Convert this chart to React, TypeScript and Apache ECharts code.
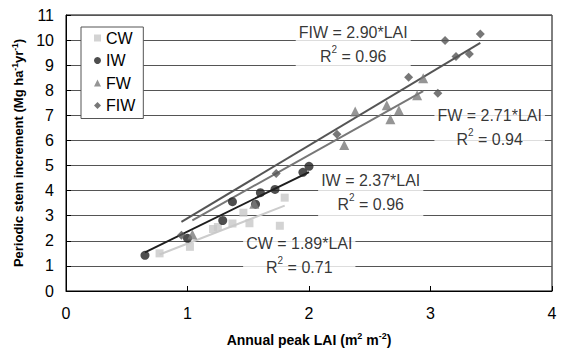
import React, { useEffect, useRef } from "react";
import * as echarts from "echarts";

// ---- data ----
const cwPoints: number[][] = [
  [0.77, 1.5], [1.02, 1.76], [1.21, 2.47], [1.25, 2.55], [1.37, 2.69],
  [1.46, 3.12], [1.51, 2.7], [1.76, 2.6], [1.8, 3.72],
];
const iwPoints: number[][] = [
  [0.65, 1.42], [1.0, 2.1], [1.29, 2.81], [1.37, 3.56], [1.56, 3.46],
  [1.6, 3.92], [1.72, 4.05], [1.95, 4.73], [2.0, 4.97],
];
const fwPoints: number[][] = [
  [1.04, 2.25], [1.55, 3.48], [2.29, 5.82], [2.38, 7.15], [2.64, 7.4],
  [2.67, 6.85], [2.74, 7.2], [2.89, 7.8], [2.94, 8.48],
];
const fiwPoints: number[][] = [
  [0.95, 2.22], [1.73, 4.68], [2.23, 6.25], [2.82, 8.52], [3.06, 7.88],
  [3.12, 9.98], [3.21, 9.35], [3.32, 9.45], [3.41, 10.24],
];

const seriesNames = ["CW", "IW", "FW", "FIW"];
const slopes = [1.89, 2.37, 2.71, 2.9];
const slopeLabels = ["1.89", "2.37", "2.71", "2.90"];
const r2Labels = ["0.71", "0.96", "0.94", "0.96"];
// annotation anchors (data coordinates)
const annX = [1.92, 2.508, 3.487, 2.364];
const annY = [1.425, 3.92, 6.51, 9.83];

const xTicks = [0, 1, 2, 3, 4];
const yMax = 11;

const FONT = "'Liberation Sans', Arial, sans-serif";
const colors = ["#c8c8c8", "#222222", "#7a7a7a", "#555555"];
const lineColors = ["#cccccc", "#1e1e1e", "#777777", "#555555"];
const symbols = ["rect", "circle", "triangle", "diamond"];
const symbolSizes = [8, 9, 10, 9];

export default function App() {
  const ref = useRef<HTMLDivElement>(null);
  useEffect(() => {
    if (!ref.current) return;
    const chart = echarts.init(ref.current, undefined, { renderer: "svg" });
    const allPts = [cwPoints, iwPoints, fwPoints, fiwPoints];

    const trendSeries = allPts.map((pts, i) => {
      const xs = pts.map((p) => p[0]);
      const x0 = Math.min(...xs);
      const x1 = Math.max(...xs);
      return {
        type: "line",
        name: seriesNames[i] + " trend",
        data: [
          [x0, slopes[i] * x0],
          [x1, slopes[i] * x1],
        ],
        symbol: "none",
        silent: true,
        z: 3,
        lineStyle: { color: lineColors[i], width: 2 },
      };
    });

    const scatterSeries = allPts.map((pts, i) => ({
      type: "scatter",
      name: seriesNames[i],
      data: pts,
      symbol: symbols[i],
      symbolSize: symbolSizes[i],
      itemStyle: { color: colors[i] },
      z: 4,
    }));

    const annSeries = {
      type: "scatter",
      name: "annotations",
      symbolSize: 0,
      silent: true,
      z: 2,
      data: seriesNames.map((n, i) => ({
        value: [annX[i], annY[i]],
        label: {
          show: true,
          position: "inside",
          formatter: `{t|${n} = ${slopeLabels[i]}*LAI}\n{t|R}{s|2}{t| = ${r2Labels[i]}}`,
        },
      })),
      label: {
        show: true,
        position: "inside",
        backgroundColor: "#ffffff",
        padding: [0, 3],
        align: "center",
        verticalAlign: "middle",
        rich: {
          t: { fontFamily: FONT, fontSize: 16, color: "#000", lineHeight: 24 },
          s: { fontFamily: FONT, fontSize: 10, color: "#000", lineHeight: 16, verticalAlign: "top" },
        },
      },
    };

    chart.setOption({
      animation: false,
      backgroundColor: "#ffffff",
      textStyle: { fontFamily: FONT },
      grid: {
        left: 66,
        right: 16,
        top: 15,
        bottom: 59,
        show: true,
        borderColor: "#000",
        borderWidth: 1,
        backgroundColor: "transparent",
      },
      legend: {
        data: seriesNames.map((n, i) => ({ name: n, icon: symbols[i] })),
        orient: "vertical",
        left: 81,
        top: 27,
        itemWidth: 7,
        itemHeight: 7,
        itemGap: 6.5,
        padding: [3, 8, 5, 13],
        backgroundColor: "#ffffff",
        borderColor: "#555",
        borderWidth: 1,
        selectedMode: false,
        textStyle: { fontFamily: FONT, fontSize: 16, color: "#000" },
      },
      xAxis: {
        type: "value",
        min: xTicks[0],
        max: xTicks[xTicks.length - 1],
        interval: 1,
        name: "{b|Annual peak LAI (m}{s|2}{b| m}{s|-2}{b|)}",
        nameLocation: "middle",
        nameGap: 40,
        nameTextStyle: {
          rich: {
            b: { fontFamily: FONT, fontSize: 14, fontWeight: "bold", color: "#000", lineHeight: 18 },
            s: { fontFamily: FONT, fontSize: 9, fontWeight: "bold", color: "#000", lineHeight: 12, verticalAlign: "top" },
          },
        },
        axisLine: { lineStyle: { color: "#000", width: 1 } },
        axisTick: { inside: true, length: 5, lineStyle: { color: "#000" } },
        axisLabel: { fontFamily: FONT, fontSize: 16, color: "#000", margin: 14 },
        splitLine: { show: false },
      },
      yAxis: {
        type: "value",
        min: 0,
        max: yMax,
        interval: 1,
        name: "{b|Periodic stem increment (Mg ha}{s|-1}{b|yr}{s|-1}{b|)}",
        nameLocation: "middle",
        nameGap: 38,
        nameRotate: 90,
        nameTextStyle: {
          rich: {
            b: { fontFamily: FONT, fontSize: 13, fontWeight: "bold", color: "#000", lineHeight: 17 },
            s: { fontFamily: FONT, fontSize: 8.5, fontWeight: "bold", color: "#000", lineHeight: 11, verticalAlign: "top" },
          },
        },
        axisLine: { show: true, lineStyle: { color: "#000", width: 1 } },
        axisTick: { show: true, inside: true, length: 5, lineStyle: { color: "#000" } },
        axisLabel: { fontFamily: FONT, fontSize: 16, color: "#000", margin: 12 },
        splitLine: { show: true, lineStyle: { color: "#555", width: 1 } },
      },
      series: [annSeries, ...trendSeries, ...scatterSeries],
    });
    return () => chart.dispose();
  }, []);
  return (
    <div
      ref={ref}
      style={{ position: "fixed", left: 0, top: 0, width: 568, height: 352 }}
    />
  );
}
